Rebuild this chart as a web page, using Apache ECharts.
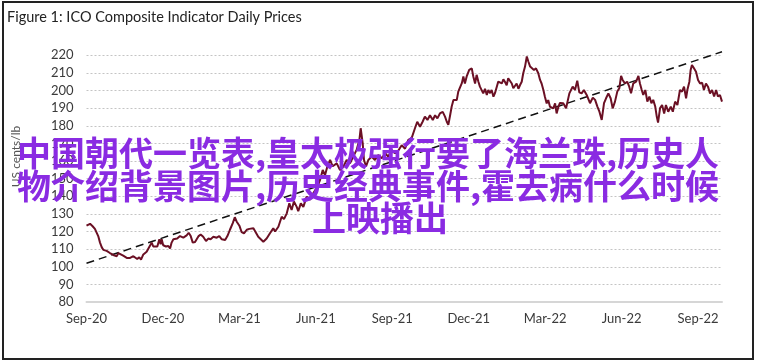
<!DOCTYPE html>
<html><head><meta charset="utf-8">
<script src="https://cdn.jsdelivr.net/npm/echarts/dist/echarts.min.js"></script>
<style>html,body{margin:0;padding:0;background:#fff}#c{width:758px;height:363px}</style>
</head><body><div id="c"></div>
<script>
// x positions: months since 1 Sep 2020
const tickLabels = ['Sep-20','Dec-20','Mar-21','Jun-21','Sep-21','Dec-21','Mar-22','Jun-22','Sep-22'];
const monthPos = [
0.00,0.14,0.24,0.33,0.40,0.46,0.53,0.60,0.66,0.73,0.79,0.86,0.92,1.05,1.12,1.19,1.25,1.31,1.44,1.58,1.64,1.71,1.84,1.90,1.99,2.07,2.14,2.23,2.30,2.36,2.43,2.49,2.56,2.62,2.69,2.78,2.86,2.91,2.95,3.01,3.12,3.21,3.28,3.34,3.41,3.47,3.56,3.67,3.80,3.93,4.01,4.09,4.17,4.26,4.32,4.40,4.48,4.58,4.69,4.78,4.87,4.98,5.11,5.21,5.31,5.44,5.53,5.63,5.74,5.82,5.89,6.00,6.09,6.18,6.29,6.39,
6.55,6.74,6.94,7.07,7.20,7.33,7.40,7.53,7.66,7.75,7.86,7.96,8.05,8.14,8.25,8.31,8.41,8.51,8.64,8.77,8.90,9.06,9.16,9.27,9.36,9.45,9.56,9.66,9.82,9.95,10.08,10.21,10.34,10.47,10.60,10.71,10.76,10.84,10.89,10.97,11.06,11.19,11.32,11.45,11.59,11.72,11.84,11.98,12.11,12.24,12.37,12.50,12.63,
12.76,12.89,12.98,13.09,13.19,13.28,13.38,13.48,13.59,13.68,13.77,13.87,13.98,14.07,14.14,14.20,14.27,14.33,14.40,14.46,14.53,14.59,14.66,14.73,14.79,14.85,14.92,15.02,15.12,15.18,15.25,15.31,15.38,15.44,15.51,15.57,15.64,15.71,15.77,15.84,15.90,15.97,16.03,16.10,16.16,16.23,16.30,16.36,16.42,16.49,16.55,16.62,16.69,16.75,16.82,16.88,16.95,17.01,17.08,17.14,17.21,17.28,17.34,17.41,17.47,17.56,17.64,17.73,17.80,17.86,17.93,17.99,18.06,18.12,18.19,18.26,18.32,18.39,18.45,18.52,
18.58,18.71,18.82,18.95,19.08,19.17,19.26,19.34,19.43,19.52,19.63,19.76,19.87,19.96,20.05,20.13,20.22,20.31,20.39,20.48,20.57,20.65,20.74,20.83,20.91,20.98,21.04,21.13,21.22,21.30,21.37,21.46,21.57,21.66,21.72,21.79,21.85,21.93,22.01,22.09,22.17,22.24,22.32,22.38,22.43,22.51,22.59,22.67,22.74,22.83,22.93,23.01,23.10,23.19,23.29,23.37,23.45,23.53,23.58,23.66,23.71,23.76,23.84,23.92,24.00,24.08,24.16,24.23,24.31,24.39,24.47,24.55,24.63,24.71,24.78,24.86,24.94
];
const prices = [
123.3,124.4,123,121.5,120.4,117.4,113.7,111,109.6,110.7,109,108.5,107.8,106.7,107,106,107.8,107,106.3,105,104,105,106,105.4,104.4,105.4,104,107,106,108.5,109.4,111.9,113.7,111.5,110.4,111.5,115.6,112.8,115.6,112.2,111.5,111.8,110.4,113.7,115.6,116.5,116,117.4,116.5,117.8,119.3,117.4,113.7,114,113.7,117.4,118.3,117,114.6,116,115.6,117,116.5,117.4,115.6,115.2,117.4,121,124.8,128.1,125.7,123.3,119.6,118.9,121,121.5,
121.8,117,114.2,116,119,121.8,120,122.7,128.4,127,130.3,136,132.2,137,134,131.5,136,134,139.8,138,141.7,145.4,149,154.9,152,156.8,160.6,157,158.7,154.9,156.8,160.6,158.7,162.5,166.3,172,178.6,170,160.6,157,160.6,162.5,160.6,163.4,161.6,164.4,162.5,166.3,164.4,166,169,167,172,
173,178.6,182.3,179.5,182.3,185.2,183.3,186,183.3,186,184.2,187,187.9,185.2,182.3,180.5,186,190.8,194.6,193.7,194.6,199.4,198.5,204.2,208,204,208,211.7,212.6,208,204,208.9,205,202.2,203,198.4,201,197.5,200.3,198.5,200.3,196.5,198.5,199.4,205.1,206,204,206.4,205,203,207,208,204,201.3,202.2,204,201,203,205,209.8,213.6,219.3,216.5,213.6,214.5,211.7,212.6,209.8,206,204,200.3,196.5,192.7,194.6,190.8,191.8,189.9,192.7,187,190.8,
193,192.8,190,198.4,202.2,200.3,205.6,199,198.4,200.3,197.5,192.8,196,194.7,190.9,188,183.3,192.8,195.6,198.4,195.6,189.9,193.7,199.4,201.3,208.3,206,204.1,205,202.2,198.4,204.1,205,208.3,204,200.3,197.5,200.3,193.7,196.6,192.8,194.7,190.9,185.2,181.8,190,191.8,187,191.8,188,190.9,188,193.7,191.8,200.3,199.4,202.2,195.6,200.3,205,211.7,214.5,212.6,210.7,206,204,204.5,200.3,204,202.2,198.4,200.3,196.6,200.3,196.6,197.5,193.7
];
const trendMonths = [0, 24.94];
const trendValues = [102, 222];
const overlayLines = ['中国朝代一览表,皇太极强行要了海兰珠,历史人', '物介绍背景图片,历史经典事件,霍去病什么时候', '上映播出'];

const priceData = monthPos.map((m, i) => [m, prices[i]]).filter(d => d[1] != null);
const trendData = trendMonths.map((m, i) => [m, trendValues[i]]);
const font = 'Lato, "Open Sans", sans-serif';
const cjk = '"Noto Sans CJK SC", sans-serif';

const chart = echarts.init(document.getElementById('c'), null, {renderer: 'canvas'});
chart.setOption({
  animation: false,
  backgroundColor: '#fff',
  title: {
    text: 'Figure 1: ICO Composite Indicator Daily Prices',
    left: 2, top: 5,
    textStyle: {fontFamily: font, fontSize: 14.5, fontWeight: 'normal', color: '#222'}
  },
  grid: {left: 86.5, right: 36, top: 55.3, bottom: 61, containLabel: false},
  xAxis: {
    type: 'value', min: 0, max: 24.94, interval: 3,
    axisLine: {show: true, lineStyle: {color: '#d6d6d6', width: 2}},
    axisTick: {show: false},
    splitLine: {show: false},
    axisLabel: {
      fontFamily: font, fontSize: 13, color: '#3a3a3a', margin: 10, showMaxLabel: false,
      formatter: v => { const i = Math.round(v / 3); return Math.abs(v - i * 3) < 1e-6 ? (tickLabels[i] || '') : ''; }
    }
  },
  yAxis: {
    type: 'value', min: 80, max: 220, interval: 10,
    axisLine: {show: false}, axisTick: {show: false},
    splitLine: {show: true, lineStyle: {color: '#c4c4c4', type: [2, 2], width: 1}},
    axisLabel: {fontFamily: font, fontSize: 13, color: '#3a3a3a', margin: 13}
  },
  series: [
    {type: 'line', data: trendData, symbol: 'none', clip: false, z: 2,
     lineStyle: {color: '#111', width: 1.5, type: [8, 5]}},
    {type: 'line', data: priceData, symbol: 'none', z: 3,
     lineStyle: {color: '#6b1024', width: 2}}
  ],
  graphic: [
    {type: 'rect', shape: {x: 3, y: 2, width: 750, height: 357}, style: {fill: null, stroke: '#222', lineWidth: 2}, z: 10},
    {type: 'text', x: 16, y: 156.5, rotation: Math.PI / 2, z: 5,
     style: {text: 'US cents/lb', fontFamily: font, fontSize: 12, fill: '#555', align: 'center', verticalAlign: 'middle'}},
    {type: 'text', x: 368, y: 153, z: 20,
     style: {text: overlayLines[0], fontFamily: cjk, fontSize: 34, fontWeight: 'bold', fill: '#8a2be2', align: 'center', verticalAlign: 'middle'}},
    {type: 'text', x: 368, y: 186.5, z: 20,
     style: {text: overlayLines[1], fontFamily: cjk, fontSize: 34, fontWeight: 'bold', fill: '#8a2be2', align: 'center', verticalAlign: 'middle'}},
    {type: 'text', x: 380, y: 218.5, z: 20,
     style: {text: overlayLines[2], fontFamily: cjk, fontSize: 34, fontWeight: 'bold', fill: '#8a2be2', align: 'center', verticalAlign: 'middle'}}
  ]
});
</script>
</body></html>
